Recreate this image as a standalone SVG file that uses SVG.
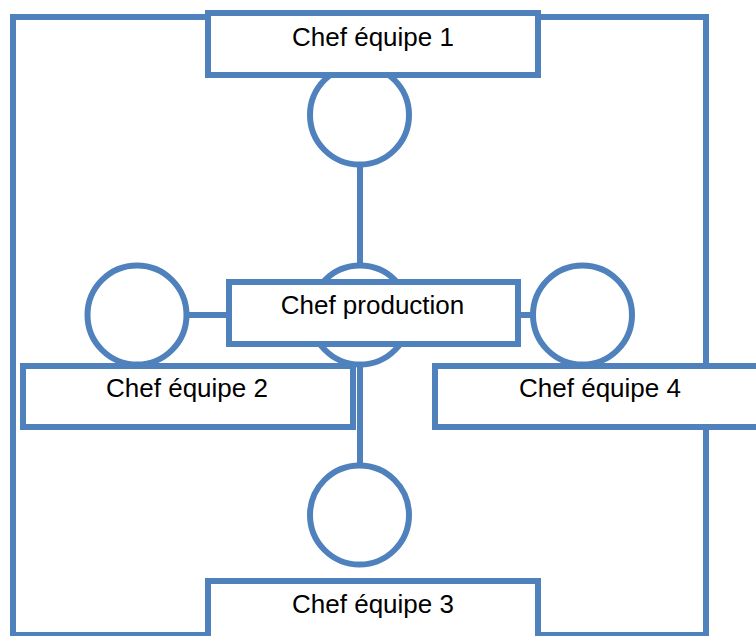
<svg xmlns="http://www.w3.org/2000/svg" width="756" height="636" viewBox="0 0 756 636">
  <style>
    .shape { fill: #ffffff; stroke: #4f81bd; stroke-width: 6; }
    .frame { fill: none; stroke: #4f81bd; stroke-width: 6; }
    .link { stroke: #4f81bd; stroke-width: 6; fill: none; }
    .label { font-family: "Liberation Sans", Arial, sans-serif; font-size: 26px; fill: #000000; text-anchor: middle; }
  </style>
  <rect width="756" height="636" fill="#ffffff"/>

  <!-- outer frame -->
  <g id="frame">
    <rect class="frame" x="13" y="17" width="693" height="618"/>
  </g>

  <!-- connectors -->
  <g id="connectors">
    <line class="link" x1="360" y1="165" x2="360" y2="266"/>
    <line class="link" x1="360" y1="364" x2="360" y2="466"/>
    <line class="link" x1="186" y1="315" x2="230" y2="315"/>
    <line class="link" x1="517" y1="315" x2="534" y2="315"/>
  </g>

  <!-- junction circles -->
  <g id="circle-top"><circle class="shape" cx="359.5" cy="115" r="49.5"/></g>
  <g id="circle-center"><circle class="shape" cx="360" cy="315" r="49.5"/></g>
  <g id="circle-left"><circle class="shape" cx="137" cy="315" r="49.5"/></g>
  <g id="circle-right"><circle class="shape" cx="582.5" cy="315" r="49.5"/></g>
  <g id="circle-bottom"><circle class="shape" cx="359.5" cy="515" r="49.5"/></g>

  <!-- boxes -->
  <g id="chef-equipe-1">
    <rect class="shape" x="208" y="13" width="330" height="62"/>
    <text class="label" x="373" y="46">Chef équipe 1</text>
  </g>
  <g id="chef-production">
    <rect class="shape" x="229" y="282" width="289" height="62"/>
    <text class="label" x="372.5" y="314">Chef production</text>
  </g>
  <g id="chef-equipe-2">
    <rect class="shape" x="23" y="366" width="330" height="61"/>
    <text class="label" x="187" y="397">Chef équipe 2</text>
  </g>
  <g id="chef-equipe-4">
    <rect class="shape" x="435" y="366" width="340" height="61"/>
    <text class="label" x="600" y="397">Chef équipe 4</text>
  </g>
  <g id="chef-equipe-3">
    <rect class="shape" x="208" y="581" width="330" height="62"/>
    <text class="label" x="373" y="613">Chef équipe 3</text>
  </g>
</svg>
